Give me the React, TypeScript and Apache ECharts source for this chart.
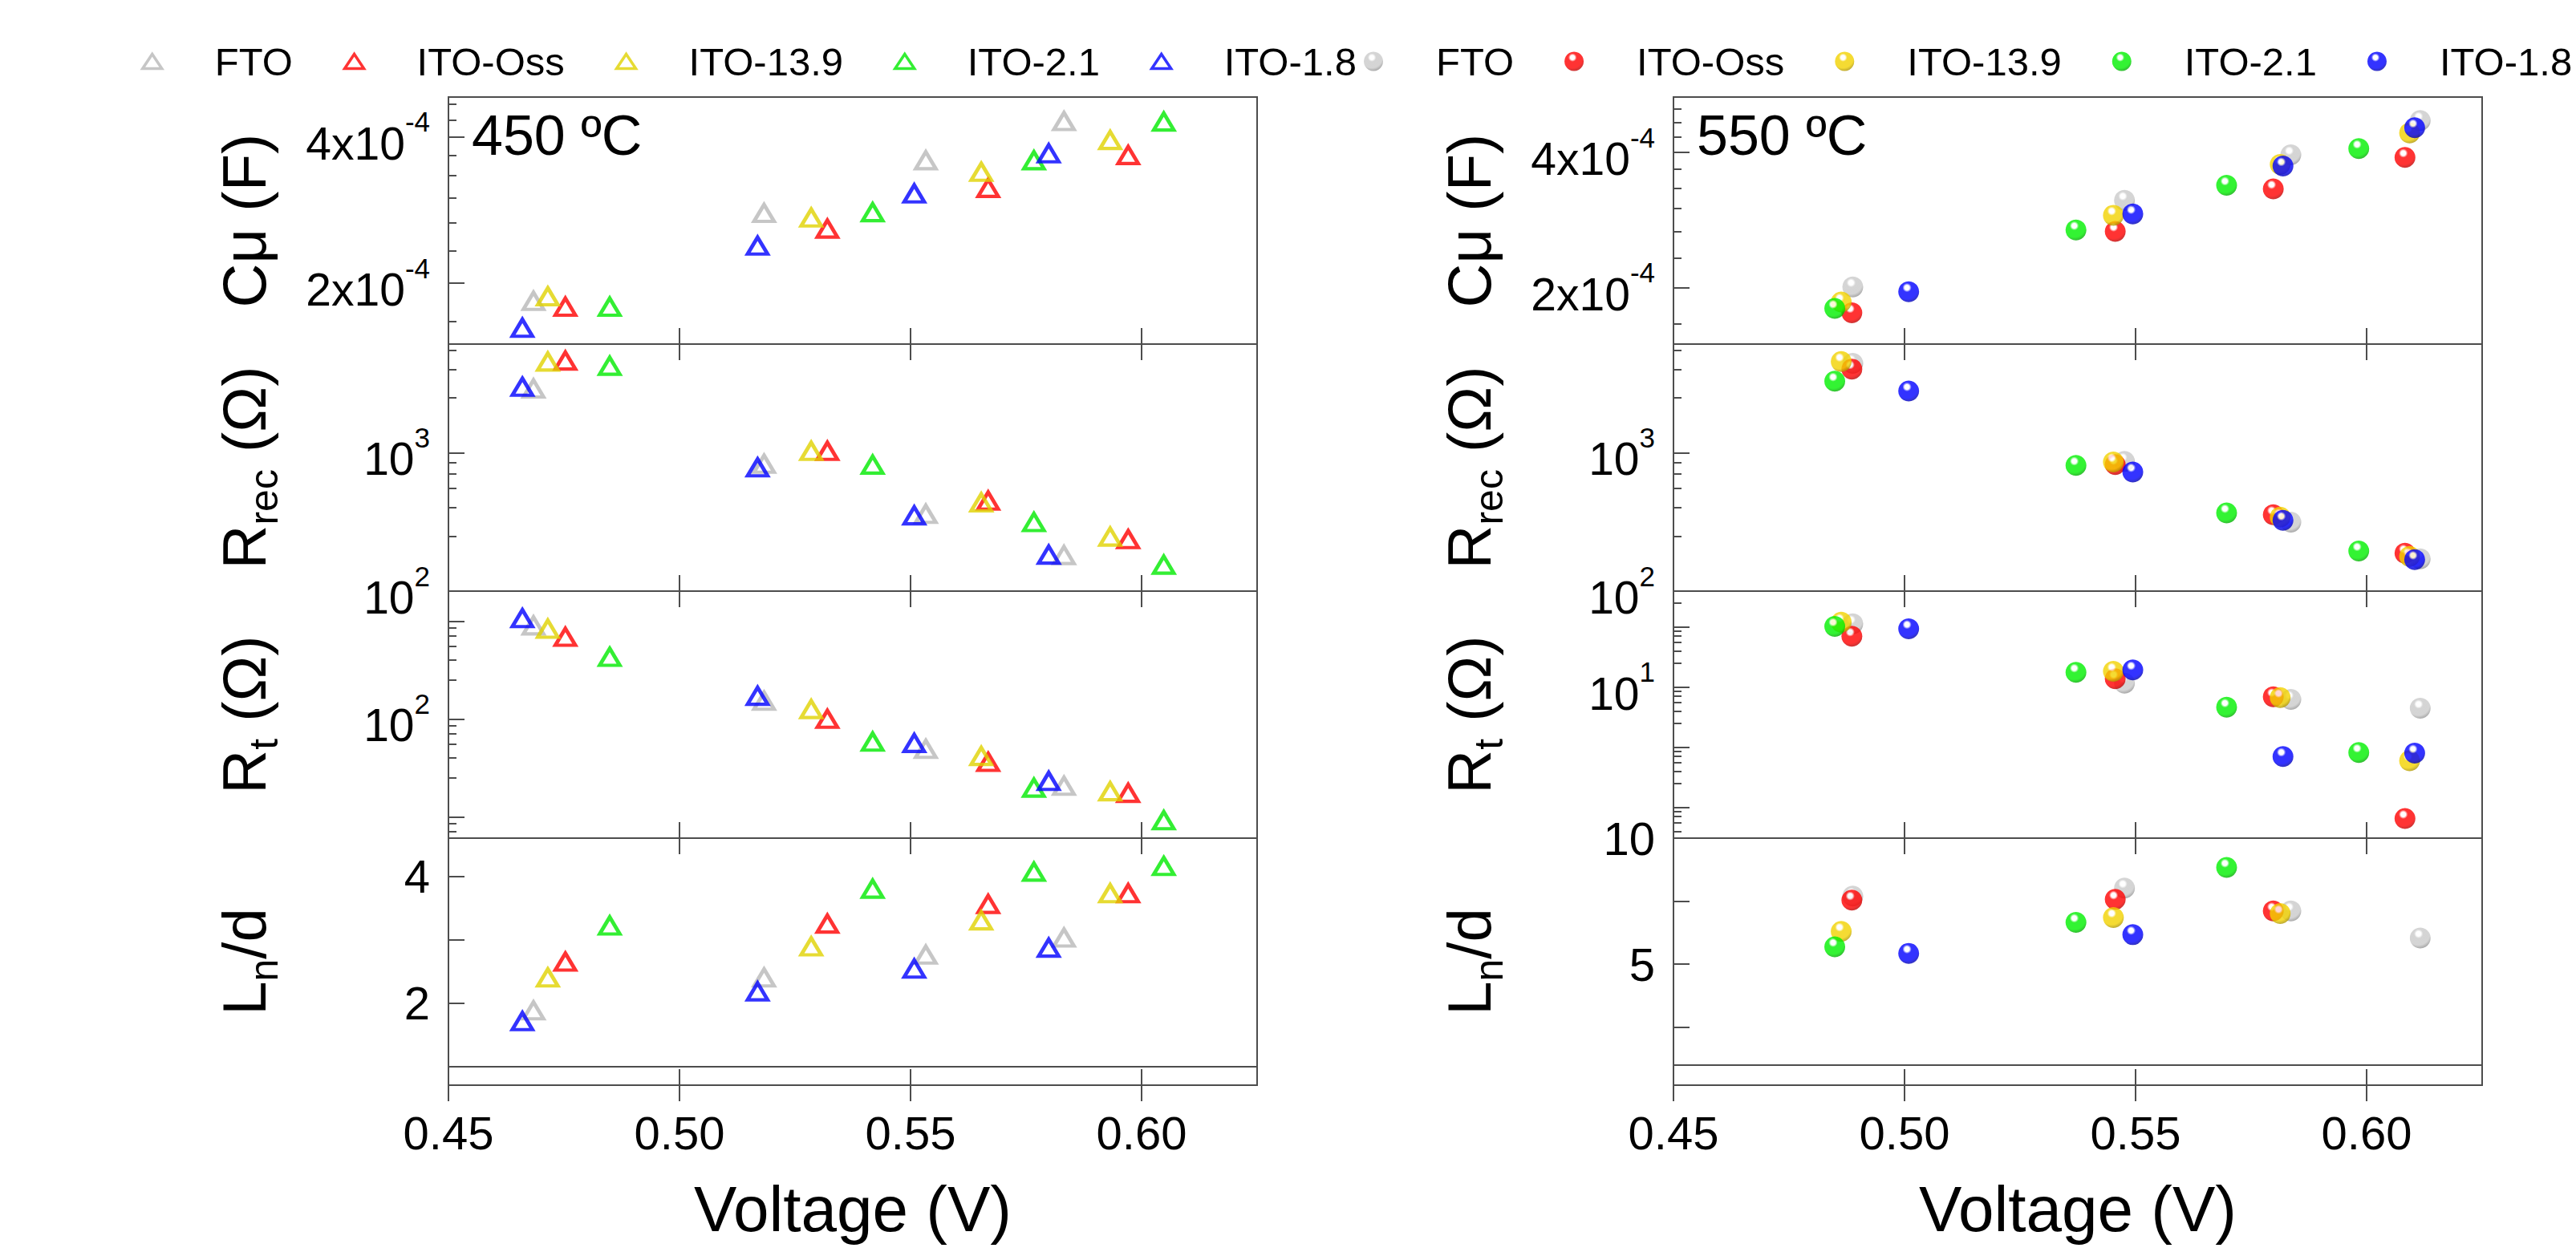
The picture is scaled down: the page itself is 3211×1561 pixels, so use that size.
import React, { useEffect, useRef } from 'react';
import * as echarts from 'echarts';

const FONT = '"Liberation Sans", Arial, Helvetica, sans-serif';
const INK = '#000000';
const FRAME = '#4d4d4d';

const seriesNames = ['FTO', 'ITO-Oss', 'ITO-13.9', 'ITO-2.1', 'ITO-1.8'];
const triangleColors = ['#b8b8b8', '#ff0000', '#e0d200', '#00ea00', '#0000ff'];
const sphereColors = ['#cacaca', '#ff0000', '#f2d200', '#00f000', '#0000ff'];
const sphereShades = ['#8e8e8e', '#b40000', '#a89000', '#00a400', '#0000a6'];

const voltageTicks = [0.45, 0.5, 0.55, 0.6];
const voltageRange = [0.45, 0.625];

// ---------- 450 ºC (rows: FTO, ITO-Oss, ITO-13.9, ITO-2.1, ITO-1.8) ----------
const volt450 = [
  [0.4684, 0.5183, 0.5533, 0.5832],
  [0.4753, 0.532, 0.5668, 0.5971],
  [0.4715, 0.5285, 0.5653, 0.5932],
  [0.4849, 0.5418, 0.5767, 0.6048],
  [0.466, 0.5169, 0.5508, 0.5799],
];
const cmu450 = [
  [1.84e-4, 2.79e-4, 3.58e-4, 4.31e-4],
  [1.79e-4, 2.59e-4, 3.14e-4, 3.67e-4],
  [1.88e-4, 2.73e-4, 3.39e-4, 3.94e-4],
  [1.79e-4, 2.8e-4, 3.58e-4, 4.3e-4],
  [1.62e-4, 2.39e-4, 3.06e-4, 3.7e-4],
];
const rrec450 = [
  [2900, 830, 361, 182],
  [4610, 1028, 450, 237],
  [4540, 1028, 437, 247],
  [4230, 818, 315, 155],
  [2985, 782, 352, 183],
];
const rt450 = [
  [901, 153, 49.3, 20.7],
  [689, 100, 36.3, 17.5],
  [834, 126, 41.7, 18.2],
  [430, 58.5, 19.8, 9.2],
  [1069, 172, 56.7, 23.2],
];
const lnd450 = [
  [1.88, 2.4, 2.76, 3.03],
  [2.65, 3.25, 3.56, 3.73],
  [2.4, 2.89, 3.3, 3.73],
  [3.22, 3.8, 4.07, 4.16],
  [1.71, 2.18, 2.54, 2.87],
];

// ---------- 550 ºC ----------
const volt550 = [
  [0.4888, 0.5476, 0.5836, 0.6116],
  [0.4886, 0.5456, 0.5798, 0.6083],
  [0.4863, 0.5452, 0.5813, 0.6093],
  [0.4849, 0.5371, 0.5697, 0.5983],
  [0.5009, 0.5494, 0.5819, 0.6104],
];
const cmu550 = [
  [2.01e-4, 3.13e-4, 3.95e-4, 4.71e-4],
  [1.76e-4, 2.67e-4, 3.32e-4, 3.9e-4],
  [1.86e-4, 2.9e-4, 3.76e-4, 4.42e-4],
  [1.8e-4, 2.69e-4, 3.38e-4, 4.08e-4],
  [1.96e-4, 2.92e-4, 3.73e-4, 4.54e-4],
];
const rrec550 = [
  [4415, 863, 315, 171],
  [4010, 818, 356, 188],
  [4540, 855, 342, 178],
  [3275, 809, 367, 195],
  [2780, 725, 324, 169],
];
const rt550 = [
  [112, 11.6, 6.21, 4.42],
  [69.7, 13.7, 6.86, 0.0649],
  [119, 18.2, 6.68, 0.596],
  [101.6, 17.5, 4.6, 0.815],
  [92.9, 19.2, 0.7, 0.794],
];
const lnd550 = [
  [7.7, 8.02, 7.11, 6.04],
  [7.54, 7.57, 7.11, null],
  [6.3, 6.85, 7.01, null],
  [5.69, 6.66, 8.84, null],
  [5.43, 6.17, null, null],
];

// ---------- axis ranges, ticks and labels ----------
const cmuRange450 = [1.5e-4, 4.83e-4];
const cmuRange550 = [1.5e-4, 5.31e-4];
const cmuLabelValues = [2e-4, 4e-4];
const cmuLabelTexts = ['2x10^-4', '4x10^-4'];
const cmuMinor450 = [1.6667e-4, 2.3333e-4, 2.6667e-4, 3e-4, 3.3333e-4, 3.6667e-4, 4.3333e-4, 4.6667e-4];
const cmuMinor550 = [1.6667e-4, 2.3333e-4, 2.6667e-4, 3e-4, 3.3333e-4, 3.6667e-4, 4.3333e-4, 4.6667e-4, 5e-4];

const rrecRange = [100, 6073];
const rrecLabelValues = [100, 1000];
const rrecLabelTexts = ['10^2', '10^3'];
const rrecMinor = [250, 400, 550, 700, 850, 2500, 4000, 5500];

const rtRange450 = [6.04, 2023];
const rtLabelValues450 = [100];
const rtLabelTexts450 = ['10^2'];
const rtMajor450 = [10, 100, 1000];
const rtMinor450 = [7, 8.5, 25, 40, 55, 70, 85, 250, 400, 550, 700, 850];

const rtRange550 = [0.0307, 392];
const rtLabelValues550 = [10];
const rtLabelTexts550 = ['10^1'];
const rtMajor550 = [0.1, 1, 10, 100];
const rtMinor550 = [0.04, 0.055, 0.07, 0.085, 0.25, 0.4, 0.55, 0.7, 0.85, 2.5, 4, 5.5, 7, 8.5, 25, 40, 55, 70, 85, 250];

const lndRange450 = [0.7, 4.6];
const lndLabelValues450 = [2, 4];
const lndLabelTexts450 = ['2', '4'];
const lndMajor450 = [2, 3, 4];

const lndRange550 = [0.2, 10];
const lndLabelValues550 = [5, 10];
const lndLabelTexts550 = ['5', '10'];
const lndMajor550 = [2.5, 5, 7.5, 10];

const lndReferenceLine = 1;

const panelTitles = ['{n|Cμ (F)}', '{n|R}{b|rec}{n| (Ω)}', '{n|R}{b|t}{n| (Ω)}', '{n|L}{b|n}{n|/d}'];
const temperatureLabels = ['450 ºC', '550 ºC'];
const xAxisTitle = 'Voltage (V)';

// ---------- layout ----------
const GRID_LEFT = [559, 2086];
const GRID_TOP = [121, 429, 737, 1045];
const GRID_W = 1008;
const GRID_H = 308;

type Panel = {
  log: boolean;
  range: number[];
  labelValues: number[];
  labelTexts: string[];
  majorTicks: number[];
  minorTicks: number[];
  values: (number | null)[][];
};

const panels450: Panel[] = [
  { log: true, range: cmuRange450, labelValues: cmuLabelValues, labelTexts: cmuLabelTexts, majorTicks: cmuLabelValues, minorTicks: cmuMinor450, values: cmu450 },
  { log: true, range: rrecRange, labelValues: rrecLabelValues, labelTexts: rrecLabelTexts, majorTicks: rrecLabelValues, minorTicks: rrecMinor, values: rrec450 },
  { log: true, range: rtRange450, labelValues: rtLabelValues450, labelTexts: rtLabelTexts450, majorTicks: rtMajor450, minorTicks: rtMinor450, values: rt450 },
  { log: false, range: lndRange450, labelValues: lndLabelValues450, labelTexts: lndLabelTexts450, majorTicks: lndMajor450, minorTicks: [], values: lnd450 },
];
const panels550: Panel[] = [
  { log: true, range: cmuRange550, labelValues: cmuLabelValues, labelTexts: cmuLabelTexts, majorTicks: cmuLabelValues, minorTicks: cmuMinor550, values: cmu550 },
  { log: true, range: rrecRange, labelValues: rrecLabelValues, labelTexts: rrecLabelTexts, majorTicks: rrecLabelValues, minorTicks: rrecMinor, values: rrec550 },
  { log: true, range: rtRange550, labelValues: rtLabelValues550, labelTexts: rtLabelTexts550, majorTicks: rtMajor550, minorTicks: rtMinor550, values: rt550 },
  { log: false, range: lndRange550, labelValues: lndLabelValues550, labelTexts: lndLabelTexts550, majorTicks: lndMajor550, minorTicks: [], values: lnd550 },
];

function toRich(label: string) {
  const parts = label.split('^');
  return parts.length > 1 ? `{m|${parts[0]}}{s|${parts[1]}}` : `{p|${parts[0]}}`;
}

function sphereFill(i: number) {
  return new echarts.graphic.RadialGradient(0.42, 0.3, 0.72, [
    { offset: 0, color: '#ffffff' },
    { offset: 0.16, color: '#ffffff' },
    { offset: 0.3, color: sphereColors[i] },
    { offset: 0.75, color: sphereColors[i] },
    { offset: 1, color: sphereShades[i] },
  ]);
}

const tickLine = { color: FRAME, width: 2 };

function buildOption() {
  const grids: any[] = [];
  const xAxes: any[] = [];
  const yAxes: any[] = [];
  const series: any[] = [];

  [0, 1].forEach((side) => {
    const volts = side === 0 ? volt450 : volt550;
    const panels = side === 0 ? panels450 : panels550;
    panels.forEach((pan, p) => {
      const g = grids.length;
      grids.push({
        left: GRID_LEFT[side],
        top: GRID_TOP[p],
        width: GRID_W,
        height: GRID_H,
        show: true,
        borderColor: FRAME,
        borderWidth: 2,
        backgroundColor: 'transparent',
        containLabel: false,
        outerBoundsMode: 'none',
      });
      const tf = (v: number) => (pan.log ? Math.log10(v) : v);

      const xMain = xAxes.length;
      const baseX = {
        type: 'value',
        gridIndex: g,
        min: voltageRange[0],
        max: voltageRange[1],
        splitLine: { show: false },
        axisLine: { show: false, onZero: false },
      };
      xAxes.push({
        ...baseX,
        position: 'bottom',
        axisTick: { show: true, inside: true, length: 20, lineStyle: tickLine, customValues: voltageTicks },
        axisLabel:
          p === 3
            ? {
                show: true,
                margin: 30,
                fontSize: 58,
                color: INK,
                fontFamily: FONT,
                customValues: voltageTicks,
                formatter: (v: number) => v.toFixed(2),
              }
            : { show: false },
        name: p === 3 ? xAxisTitle : '',
        nameLocation: 'middle',
        nameGap: 114,
        nameMoveOverlap: false,
        nameTextStyle: { fontSize: 80, color: INK, fontFamily: FONT },
      });
      if (p > 0) {
        xAxes.push({
          ...baseX,
          position: 'top',
          axisTick: { show: true, inside: true, length: 20, lineStyle: tickLine, customValues: voltageTicks },
          axisLabel: { show: false },
        });
      }
      if (p === 3) {
        xAxes.push({
          ...baseX,
          position: 'bottom',
          axisTick: { show: true, inside: false, length: 20, lineStyle: tickLine, customValues: voltageTicks },
          axisLabel: { show: false },
        });
      }

      const yMain = yAxes.length;
      yAxes.push({
        type: 'value',
        gridIndex: g,
        position: 'left',
        min: tf(pan.range[0]),
        max: tf(pan.range[1]),
        splitLine: { show: false },
        axisLine: { show: false, onZero: false },
        axisTick: { show: true, inside: true, length: 20, lineStyle: tickLine, customValues: pan.majorTicks.map(tf) },
        axisLabel: {
          show: true,
          margin: 23,
          customValues: pan.labelValues.map(tf),
          formatter: (v: number) => {
            let idx = 0;
            let best = Infinity;
            pan.labelValues.forEach((lv, k) => {
              const d = Math.abs(tf(lv) - v);
              if (d < best) {
                best = d;
                idx = k;
              }
            });
            return toRich(pan.labelTexts[idx]);
          },
          rich: {
            m: { fontSize: 57, color: INK, fontFamily: FONT, padding: [16, 0, 0, 0] },
            s: { fontSize: 35, color: INK, fontFamily: FONT, verticalAlign: 'top' },
            p: { fontSize: 58, color: INK, fontFamily: FONT },
          },
        },
        name: panelTitles[p],
        nameLocation: 'middle',
        nameRotate: 90,
        nameGap: 205,
        nameMoveOverlap: false,
        nameTextStyle: {
          rich: {
            n: { fontSize: 76, color: INK, fontFamily: FONT, padding: [0, 0, 12, 0] },
            b: { fontSize: 50, color: INK, fontFamily: FONT, verticalAlign: 'bottom' },
          },
        },
      });
      yAxes.push({
        type: 'value',
        gridIndex: g,
        position: 'left',
        min: tf(pan.range[0]),
        max: tf(pan.range[1]),
        splitLine: { show: false },
        axisLine: { show: false, onZero: false },
        axisTick: {
          show: pan.minorTicks.length > 0,
          inside: true,
          length: 10,
          lineStyle: tickLine,
          customValues: pan.minorTicks.map(tf),
        },
        axisLabel: { show: false },
      });

      pan.values.forEach((row, i) => {
        const data: number[][] = [];
        row.forEach((val, k) => {
          if (val != null) data.push([volts[i][k], tf(val)]);
        });
        const s: any = {
          type: 'scatter',
          name: seriesNames[i],
          xAxisIndex: xMain,
          yAxisIndex: yMain,
          data,
          z: 3 + i,
          emphasis: { disabled: true },
          symbol: side === 0 ? 'triangle' : 'circle',
          symbolSize: side === 0 ? [25, 21] : 26,
          itemStyle:
            side === 0
              ? { color: 'rgba(255,255,255,0)', borderColor: triangleColors[i], borderWidth: 4.5 }
              : { color: sphereFill(i), borderWidth: 0 },
        };
        if (p === 3 && i === 0) {
          s.markLine = {
            silent: true,
            symbol: ['none', 'none'],
            label: { show: false },
            lineStyle: { color: FRAME, width: 2, type: 'solid' },
            data: [{ yAxis: lndReferenceLine }],
          };
        }
        series.push(s);
      });
    });
  });

  const legendText = { fontSize: 49, color: INK, fontFamily: FONT, padding: [0, 0, 0, 61] };
  const legends = [
    {
      left: 176,
      top: 52,
      padding: 0,
      itemWidth: 24,
      itemHeight: 18,
      itemGap: 63,
      textStyle: legendText,
      data: seriesNames.map((n, i) => ({
        name: n,
        icon: 'triangle',
        itemStyle: { color: 'rgba(255,255,255,0)', borderColor: triangleColors[i], borderWidth: 3.5 },
      })),
    },
    {
      left: 1700,
      top: 52,
      width: 2600,
      padding: 0,
      itemWidth: 24,
      itemHeight: 24,
      itemGap: 63,
      textStyle: legendText,
      data: seriesNames.map((n, i) => ({
        name: n,
        icon: 'circle',
        itemStyle: { color: sphereFill(i), borderWidth: 0 },
      })),
    },
  ];

  const graphics = temperatureLabels.map((t, side) => ({
    type: 'text',
    left: GRID_LEFT[side] + 29,
    top: 134,
    style: { text: t, fontSize: 70, fill: INK, fontFamily: FONT },
  }));

  return {
    animation: false,
    backgroundColor: '#ffffff',
    textStyle: { fontFamily: FONT },
    legend: legends,
    grid: grids,
    xAxis: xAxes,
    yAxis: yAxes,
    series,
    graphic: graphics,
  };
}

export default function App() {
  const ref = useRef<HTMLDivElement>(null);
  useEffect(() => {
    if (!ref.current) return;
    const chart = echarts.init(ref.current, null, { renderer: 'svg' });
    chart.setOption(buildOption() as any);
    return () => chart.dispose();
  }, []);
  return (
    <div
      ref={ref}
      style={{ position: 'fixed', left: 0, top: 0, width: 3211, height: 1561, background: '#ffffff' }}
    />
  );
}
